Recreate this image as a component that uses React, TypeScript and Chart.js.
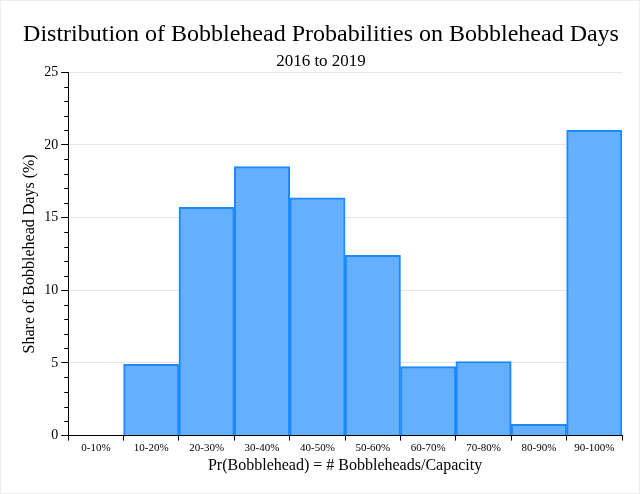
import React, { useEffect, useRef } from "react";
import { Chart, registerables } from "chart.js";

Chart.register(...registerables);

const bins = [
  "0-10%",
  "10-20%",
  "20-30%",
  "30-40%",
  "40-50%",
  "50-60%",
  "60-70%",
  "70-80%",
  "80-90%",
  "90-100%",
];
const shares = [0, 4.9, 15.7, 18.5, 16.35, 12.4, 4.75, 5.1, 0.78, 21.0];
const yMajorStep = 5;
const yMinorStep = 1;

const serif = "'Liberation Serif', 'Times New Roman', serif";

// short minor ticks between the labelled y ticks
const minorTicks = {
  id: "minorTicks",
  afterDraw(chart: Chart) {
    const y: any = chart.scales.y;
    const ctx = chart.ctx;
    ctx.save();
    ctx.strokeStyle = "#000";
    ctx.lineWidth = 1;
    for (let v = y.min; v <= y.max; v += yMinorStep) {
      if (v % yMajorStep === 0) continue;
      const py = Math.round(y.getPixelForValue(v)) + 0.5;
      ctx.beginPath();
      ctx.moveTo(y.right - 4, py);
      ctx.lineTo(y.right, py);
      ctx.stroke();
    }
    ctx.restore();
  },
};

const App: React.FC = () => {
  const chartRef = useRef<HTMLCanvasElement | null>(null);
  const chartInstance = useRef<Chart | null>(null);

  useEffect(() => {
    document.body.style.margin = "0";
    if (!chartRef.current) return;
    if (chartInstance.current) chartInstance.current.destroy();

    chartInstance.current = new Chart(chartRef.current, {
      type: "bar",
      data: {
        labels: bins,
        datasets: [
          {
            data: shares,
            backgroundColor: "#64B0FF",
            borderColor: "#1E88FF",
            borderWidth: 2,
            barPercentage: 1,
            categoryPercentage: 1,
          },
        ],
      },
      options: {
        animation: false,
        responsive: true,
        maintainAspectRatio: false,
        layout: { padding: { left: 19, right: 17, bottom: 18 } },
        plugins: {
          legend: { display: false },
          tooltip: { enabled: false },
          title: {
            display: true,
            text: "Distribution of Bobblehead Probabilities on Bobblehead Days",
            color: "#000",
            font: { family: serif, size: 24, weight: "normal" },
            padding: { top: 19, bottom: 3 },
          },
          subtitle: {
            display: true,
            text: "2016 to 2019",
            color: "#000",
            font: { family: serif, size: 17, weight: "normal" },
            padding: { top: 0, bottom: 0 },
          },
        },
        scales: {
          x: {
            offset: true,
            grid: {
              offset: true,
              drawOnChartArea: false,
              tickLength: 5,
              tickColor: "#000",
            },
            border: { color: "#000", width: 1 },
            ticks: {
              color: "#000",
              font: { family: serif, size: 11 },
              maxRotation: 0,
              autoSkip: false,
              padding: 1,
            },
            title: {
              display: true,
              text: "Pr(Bobblehead) = # Bobbleheads/Capacity",
              color: "#000",
              font: { family: serif, size: 16 },
              padding: { top: 0, bottom: 0 },
            },
          },
          y: {
            min: 0,
            max: 25,
            grid: {
              color: (ctx: any) =>
                ctx.tick && ctx.tick.value !== 0
                  ? "#e6e6e6"
                  : "rgba(0,0,0,0)",
              tickColor: "#000",
              tickLength: 7,
            },
            border: { color: "#000", width: 1 },
            ticks: {
              stepSize: yMajorStep,
              color: "#000",
              font: { family: serif, size: 14 },
              padding: 3,
            },
            title: {
              display: true,
              text: "Share of Bobblehead Days (%)",
              color: "#000",
              font: { family: serif, size: 16 },
              padding: { top: 0, bottom: 2 },
            },
          },
        },
      },
      plugins: [minorTicks],
    });

    return () => {
      if (chartInstance.current) {
        chartInstance.current.destroy();
        chartInstance.current = null;
      }
    };
  }, []);

  return (
    <div
      style={{
        position: "absolute",
        left: 0,
        top: 0,
        width: 640,
        height: 494,
        boxSizing: "border-box",
        border: "1px solid #eeeeee",
        background: "#fff",
      }}
    >
      <canvas ref={chartRef} />
    </div>
  );
};

export default App;
